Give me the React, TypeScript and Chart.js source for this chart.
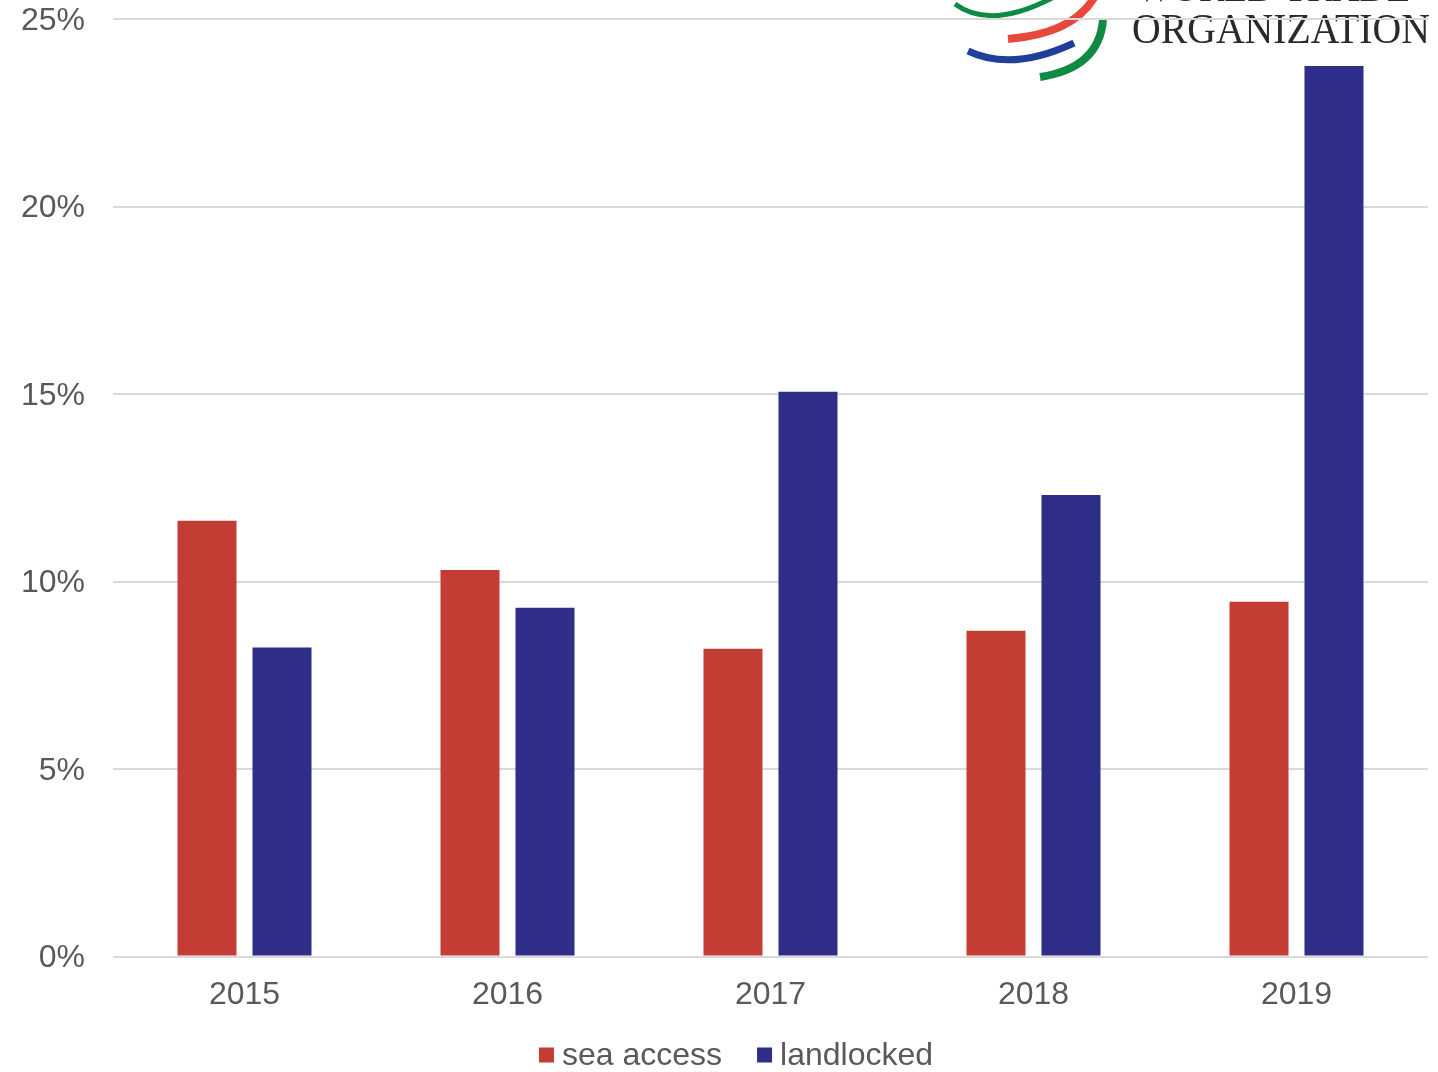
import React, { useEffect, useRef } from 'react';
import { Chart, registerables } from 'chart.js';

Chart.register(...registerables);

const categories = ['2015', '2016', '2017', '2018', '2019'];
const seaAccess = [11.62, 10.31, 8.21, 8.69, 9.46];
const landlocked = [8.24, 9.3, 15.06, 12.31, 23.75];
const seriesLabels = ['sea access', 'landlocked'];
const seriesColors = ['#c43d35', '#2e2d88'];
const yMin = 0;
const yMax = 25;
const yStep = 5;
const logoTop = 'WORLD TRADE';
const logoBottom = 'ORGANIZATION';

const FONT = "'Liberation Sans', Arial, Helvetica, sans-serif";
const SERIF = "'Liberation Serif', 'DejaVu Serif', serif";
const TEXT = '#595959';
const FS = 32;

const logoPlugin = {
  id: 'wtoLogo',
  beforeDraw(chart: any) {
    const ctx = chart.ctx as CanvasRenderingContext2D;
    ctx.save();
    ctx.fillStyle = '#ffffff';
    ctx.fillRect(0, 0, chart.width, chart.height);
    ctx.lineCap = 'butt';
    const curve = (c: string, w: number, x0: number, y0: number, cx: number, cy: number, x1: number, y1: number) => {
      ctx.beginPath();
      ctx.strokeStyle = c;
      ctx.lineWidth = w;
      ctx.moveTo(x0, y0);
      ctx.quadraticCurveTo(cx, cy, x1, y1);
      ctx.stroke();
    };
    curve('#0f8a43', 5, 955, 4, 990, 30, 1052, -2);
    curve('#e8473c', 8, 1008, 39, 1072, 34, 1094, -2);
    curve('#213f99', 7, 968, 51, 1012, 72, 1074, 43);
    curve('#0f8a43', 8, 1040, 77, 1099, 68, 1103, 20);
    ctx.fillStyle = '#2a2a2a';
    ctx.textBaseline = 'alphabetic';
    ctx.textAlign = 'left';
    ctx.font = `42px ${SERIF}`;
    const drawFit = (t: string, x: number, y: number, w: number) => {
      const m = ctx.measureText(t).width;
      ctx.save();
      ctx.translate(x, y);
      ctx.scale(w / m, 1);
      ctx.fillText(t, 0, 0);
      ctx.restore();
    };
    drawFit(logoBottom, 1132, 43, 298);
    drawFit(logoTop, 1136, 1, 274);
    ctx.restore();
  },
};

const legendPlugin = {
  id: 'customLegend',
  afterDraw(chart: any) {
    const ctx = chart.ctx as CanvasRenderingContext2D;
    ctx.save();
    ctx.font = `${FS}px ${FONT}`;
    ctx.textBaseline = 'middle';
    ctx.textAlign = 'left';
    const box = 15;
    const gapText = 8;
    const gapItem = 35;
    const ds = chart.data.datasets;
    const widths = ds.map((d: any) => box + gapText + ctx.measureText(d.label).width);
    const total = widths.reduce((a: number, b: number) => a + b, 0) + gapItem * (ds.length - 1);
    let x = 736 - total / 2;
    const y = 1055;
    ds.forEach((d: any, i: number) => {
      ctx.fillStyle = d.backgroundColor;
      ctx.fillRect(x, y - box / 2, box, box);
      ctx.fillStyle = TEXT;
      ctx.fillText(d.label, x + box + gapText, y + 1);
      x += widths[i] + gapItem;
    });
    ctx.restore();
  },
};

export default function App() {
  const ref = useRef<HTMLCanvasElement | null>(null);
  useEffect(() => {
    document.body.style.margin = '0';
    if (!ref.current) return;
    const chart = new Chart(ref.current, {
      type: 'bar',
      data: {
        labels: categories,
        datasets: [
          { label: seriesLabels[0], data: seaAccess, backgroundColor: seriesColors[0] },
          { label: seriesLabels[1], data: landlocked, backgroundColor: seriesColors[1] },
        ],
      },
      options: {
        responsive: false,
        devicePixelRatio: 1,
        animation: false,
        categoryPercentage: 0.5703,
        barPercentage: 0.787,
        layout: { padding: { top: 0, right: 10, bottom: 39, left: 0 } },
        plugins: {
          legend: { display: false },
          tooltip: { enabled: false },
        },
        scales: {
          x: {
            grid: { display: false, drawTicks: false },
            border: { display: false },
            ticks: { color: TEXT, font: { family: FONT, size: FS }, padding: 19 },
          },
          y: {
            min: yMin,
            max: yMax,
            grid: { color: '#d9d9d9', lineWidth: 2, drawTicks: false },
            border: { display: false },
            ticks: {
              stepSize: yStep,
              color: TEXT,
              font: { family: FONT, size: FS },
              padding: 28,
              labelOffset: 2,
              callback: (v: any) => `${v}%`,
            },
            afterFit: (s: any) => {
              s.width = 113;
              s.paddingTop = 19;
              s.paddingBottom = 0;
            },
          },
        },
      } as any,
      plugins: [logoPlugin, legendPlugin],
    });
    return () => chart.destroy();
  }, []);
  return (
    <div style={{ width: 1438, height: 1072 }}>
      <canvas ref={ref} width={1438} height={1072} />
    </div>
  );
}
